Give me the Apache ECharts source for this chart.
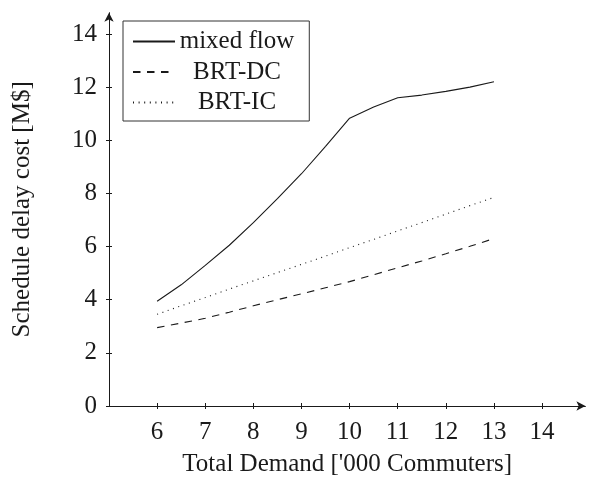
<!DOCTYPE html>
<html>
<head>
<meta charset="utf-8">
<script src="https://cdn.jsdelivr.net/npm/echarts@6/dist/echarts.min.js"></script>
<style>
  html, body { margin: 0; padding: 0; background: #fff; }
  #chart { width: 589px; height: 482px; }
</style>
</head>
<body>
<div id="chart"></div>
<script>
// Total demand ('000 commuters)
const demand = [6, 6.5, 7, 7.5, 8, 8.5, 9, 9.5, 10, 10.5, 11, 11.5, 12, 12.5, 13];
// Schedule delay cost (M$) per scheme
const mixedFlow = [3.94, 4.56, 5.29, 6.05, 6.9, 7.8, 8.74, 9.77, 10.83, 11.25, 11.6, 11.7, 11.84, 12.0, 12.2];
const brtDC = [2.95, 3.12, 3.3, 3.53, 3.77, 4.0, 4.22, 4.45, 4.68, 4.94, 5.2, 5.46, 5.73, 6.01, 6.3];
const brtIC = [3.45, 3.77, 4.08, 4.4, 4.71, 5.02, 5.33, 5.64, 5.96, 6.27, 6.59, 6.9, 7.22, 7.54, 7.85];
// Tick labels
const xTicks = [6, 7, 8, 9, 10, 11, 12, 13, 14];
const yTicks = [0, 2, 4, 6, 8, 10, 12, 14];

const FONT = 'Liberation Serif';
const FS = 25;
const INK = '#1a1a1a';

const pairs = (ys) => demand.map((x, i) => [x, ys[i]]);

const xBase = {
  type: 'value', min: 5, max: 14.9, gridIndex: 0, position: 'bottom',
  splitLine: { show: false }
};
const yBase = {
  type: 'value', min: 0, max: 14.8, gridIndex: 0, position: 'left',
  splitLine: { show: false }
};

const chart = echarts.init(document.getElementById('chart'), null, { renderer: 'canvas' });
chart.setOption({
  animation: false,
  backgroundColor: '#fff',
  grid: { left: 109, right: 3.6, top: 12.7, bottom: 74 },
  xAxis: [
    Object.assign({}, xBase, {
      name: "Total Demand ['000 Commuters]",
      nameLocation: 'middle',
      nameGap: 46,
      nameTextStyle: { fontFamily: FONT, fontSize: FS, color: INK },
      axisLine: { show: true, lineStyle: { color: INK, width: 1 }, symbol: ['none', 'arrow'], symbolSize: [7, 9] },
      axisTick: { show: true, inside: false, length: 3, lineStyle: { color: INK }, customValues: xTicks },
      axisLabel: { show: true, margin: 14, fontFamily: FONT, fontSize: FS, color: INK, customValues: xTicks }
    }),
    Object.assign({}, xBase, {
      axisLine: { show: false },
      axisTick: { show: true, inside: true, length: 3, lineStyle: { color: INK }, customValues: xTicks },
      axisLabel: { show: false }
    })
  ],
  yAxis: [
    Object.assign({}, yBase, {
      name: 'Schedule delay cost [M$]',
      nameLocation: 'middle',
      nameGap: 74,
      nameTextStyle: { fontFamily: FONT, fontSize: FS, color: INK },
      axisLine: { show: true, lineStyle: { color: INK, width: 1 }, symbol: ['none', 'arrow'], symbolSize: [7, 9] },
      axisTick: { show: true, inside: false, length: 3, lineStyle: { color: INK }, customValues: yTicks },
      axisLabel: { show: true, margin: 12, fontFamily: FONT, fontSize: FS, color: INK, customValues: yTicks }
    }),
    Object.assign({}, yBase, {
      axisLine: { show: false },
      axisTick: { show: true, inside: true, length: 3, lineStyle: { color: INK }, customValues: yTicks },
      axisLabel: { show: false }
    })
  ],
  legend: {
    orient: 'vertical',
    left: 123,
    top: 21,
    padding: [8, 15, 6, 9],
    itemWidth: 42,
    itemHeight: 10,
    itemGap: 5.5,
    borderColor: '#333',
    borderWidth: 1,
    backgroundColor: '#fff',
    // line-only keys: hide the marker dot on each key
    itemStyle: { color: 'transparent', borderColor: 'transparent', borderWidth: 0, opacity: 0 },
    formatter: '{n|{name}}',
    textStyle: {
      color: INK,
      rich: { n: { width: 114, align: 'center', fontFamily: FONT, fontSize: FS, lineHeight: 24, color: INK } }
    },
    data: ['mixed flow', 'BRT-DC', 'BRT-IC']
  },
  series: [
    {
      name: 'mixed flow', type: 'line', symbol: 'none', data: pairs(mixedFlow),
      lineStyle: { color: INK, width: 1.1, type: 'solid' }, itemStyle: { color: INK }
    },
    {
      name: 'BRT-DC', type: 'line', symbol: 'none', data: pairs(brtDC),
      lineStyle: { color: INK, width: 1.1, type: [7.5, 6.5] }, itemStyle: { color: INK }
    },
    {
      name: 'BRT-IC', type: 'line', symbol: 'none', data: pairs(brtIC),
      lineStyle: { color: INK, width: 1.1, type: [1, 4.6] }, itemStyle: { color: INK }
    }
  ]
});
</script>
</body>
</html>
